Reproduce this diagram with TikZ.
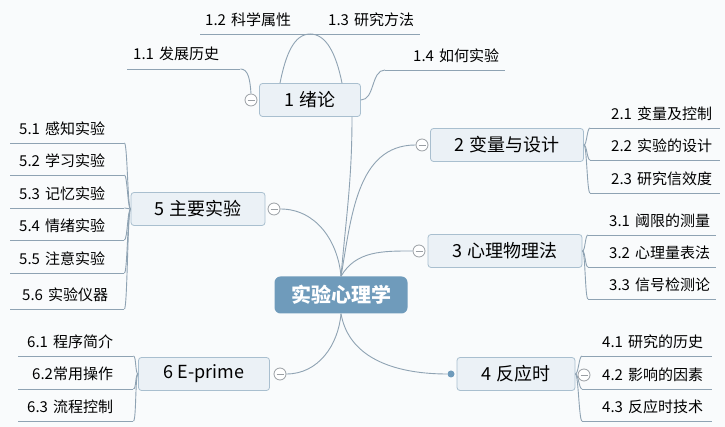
\documentclass[tikz,border=0pt]{standalone}
\usepackage{fontspec}
\usepackage{xcolor}
\usepackage{tikz}
\usetikzlibrary{calc}
\newfontfamily\cjk{Noto Sans CJK SC}
\definecolor{bgc}{HTML}{F9FBFC}
\definecolor{rootc}{HTML}{6F9BBB}
\definecolor{topicc}{HTML}{EBF1F6}
\definecolor{topicl}{HTML}{A9BFCF}
\definecolor{linkc}{HTML}{8FA3B3}
\definecolor{foldc}{HTML}{9A9FA4}

\begin{document}
\begin{tikzpicture}[x=1pt,y=1pt,
  link/.style={draw=linkc,line width=0.9pt},
  root/.style={fill=rootc,rounded corners=6pt,minimum width=133pt,minimum height=37pt,text=white,font={\cjk\fontsize{20}{24}\selectfont\bfseries}},
  topic/.style={draw=topicl,fill=topicc,line width=0.8pt,rounded corners=3pt,minimum height=33pt,minimum width=#1,font={\cjk\fontsize{18}{22}\selectfont}},
  leaf/.style={inner sep=0pt,minimum height=29pt,text width=#1,align=left,anchor=south west,font={\cjk\fontsize{15}{18}\selectfont}},
  fold/.style={circle,draw=foldc,fill=white,line width=0.8pt,minimum size=12pt,inner sep=0pt,
    path picture={\draw[foldc,line width=0.8pt] ([xshift=2.5pt]path picture bounding box.west) -- ([xshift=-2.5pt]path picture bounding box.east);}},
  dot/.style={circle,fill=rootc,minimum size=7pt,inner sep=0pt}]
  \fill[bgc] (0,0) rectangle (725,427);
  \useasboundingbox (0,0) rectangle (725,427);
  % main topics
  \node[root] (root) at (341,132) {实验心理学};
  \node[topic=101pt] (t1) at (310,327) {1 绪论};
  \node[topic=153pt] (t2) at (507,282) {2 变量与设计};
  \node[topic=154pt] (t3) at (505,176) {3 心理物理法};
  \node[topic=118pt] (t4) at (516,53) {4 反应时};
  \node[topic=134pt] (t5) at (198,218) {5 主要实验};
  \node[topic=131pt] (t6) at (204,53) {6 E-prime};
  \node[fold] (f1) at (251,327) {};
  \node[fold] (f2) at (422,282) {};
  \node[fold] (f3) at (419,176) {};
  \node[fold] (f5) at (274,218) {};
  \node[fold] (f6) at (280,53) {};
  \node[dot] (d4) at (451,53) {};
  \draw[link] (root.north) to[out=85,in=-90] ([xshift=42pt]t1.south);
  \draw[link] (root.north) to[out=80,in=180] (f2.west);
  \draw[link] (root.north) to[out=60,in=180] (f3.west);
  \draw[link] (root.north) to[out=95,in=0] (f5.east);
  \draw[link] (root.south) to[out=-95,in=0] (f6.east);
  \draw[link] (root.south) to[out=-80,in=180] (d4.west);
  % 1
  \node[leaf=113pt] (l11) at (127,358) {\hspace*{6pt}1.1 发展历史};
  \node[leaf=110pt] (l12) at (200,393) {\hspace*{5pt}1.2 科学属性};
  \node[leaf=110pt] (l13) at (310,393) {\hspace*{18pt}1.3 研究方法};
  \node[leaf=120pt] (l14) at (385,357) {\hspace*{28pt}1.4 如何实验};
  \foreach \n in {11,12,13,14}{\draw[link] (l\n.south west) -- (l\n.south east);}
  \draw[link] (f1.north) .. controls +(-1,14) and +(8,0) .. (l11.south east);
  \draw[link] ([xshift=-30pt]t1.north) .. controls +(6,30) and +(-16,0) .. (l12.south east);
  \draw[link] ([xshift=32pt]t1.north) .. controls +(-6,30) and +(16,0) .. (l13.south west);
  \draw[link] (t1.east) .. controls +(14,0) and +(-14,0) .. (l14.south west);
  % 2
  \foreach \n/\txt/\y in {21/2.1 变量及控制/299,22/2.2 实验的设计/267,23/2.3 研究信效度/234}{
    \node[leaf=130pt] (l\n) at (590,\y) {\hspace*{21pt}\txt};
    \draw[link] (l\n.south west) -- (l\n.south east);
    \draw[link] (t2.east) .. controls +(3,0) and +(-3,0) .. (l\n.south west);
  }
  % 3
  \foreach \n/\txt/\y in {31/3.1 阈限的测量/192,32/3.2 心理量表法/160,33/3.3 信号检测论/128}{
    \node[leaf=128pt] (l\n) at (588,\y) {\hspace*{21pt}\txt};
    \draw[link] (l\n.south west) -- (l\n.south east);
    \draw[link] (t3.east) .. controls +(3,0) and +(-3,0) .. (l\n.south west);
  }
  % 4
  \foreach \n/\txt/\y in {41/4.1 研究的历史/71,42/4.2 影响的因素/38,43/4.3 反应时技术/6}{
    \node[leaf=130pt] (l\n) at (582,\y) {\hspace*{20pt}\txt};
    \draw[link] (l\n.south west) -- (l\n.south east);
    \draw[link] (t4.east) .. controls +(3,0) and +(-3,0) .. (l\n.south west);
  }
  \node[fold] (f4) at (584,52) {};
  % 5
  \foreach \n/\txt/\y/\off in {51/5.1 感知实验/284/9,52/5.2 学习实验/252/9,53/5.3 记忆实验/219/9,
      54/5.4 情绪实验/187/9,55/5.5 注意实验/154/9,56/5.6 实验仪器/118/12}{
    \node[leaf=114pt] (l\n) at (10,\y) {\hspace*{\off pt}\txt};
    \draw[link] (l\n.south west) -- (l\n.south east);
    \draw[link] (t5.west) .. controls +(-3,0) and +(3,0) .. (l\n.south east);
  }
  % 6
  \foreach \n/\txt/\y/\off in {61/6.1 程序简介/71/9,62/6.2常用操作/38/14,63/6.3 流程控制/6/9}{
    \node[leaf=115pt] (l\n) at (18,\y) {\hspace*{\off pt}\txt};
    \draw[link] (l\n.south west) -- (l\n.south east);
    \draw[link] (t6.west) .. controls +(-3,0) and +(3,0) .. (l\n.south east);
  }
\end{tikzpicture}
\end{document}
